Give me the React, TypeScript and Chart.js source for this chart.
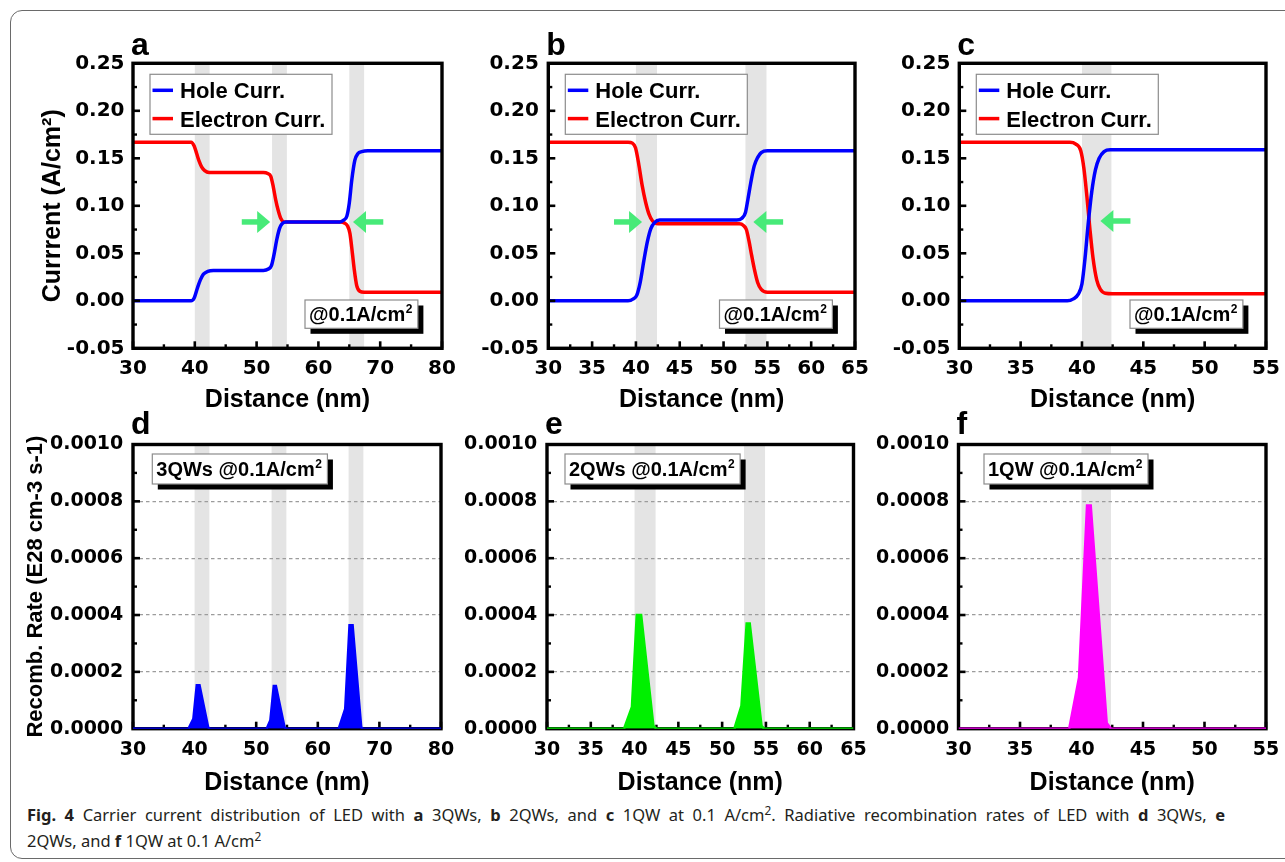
import React, { useEffect, useRef } from "react";
import { Chart, registerables } from "chart.js";

Chart.register(...registerables);

// ---------------- DATA ----------------
// (a) 3QWs carrier currents (A/cm2) vs distance (nm)
const holeA_x = [30, 39.4, 39.9, 40.4, 40.9, 41.4, 42.1, 43, 51.1, 51.9, 52.4, 52.8, 53.25, 53.7, 54.1, 54.7, 63.5, 64.1, 64.6, 65.0, 65.4, 65.9, 66.4, 67.0, 68, 80];
const holeA_y = [0, 0, 0.003, 0.013, 0.022, 0.028, 0.031, 0.032, 0.032, 0.0335, 0.037, 0.048, 0.064, 0.076, 0.081, 0.083, 0.083, 0.085, 0.089, 0.103, 0.127, 0.148, 0.155, 0.157, 0.158, 0.158];
const elecA_x = [30, 39.4, 39.9, 40.3, 40.7, 41.1, 41.6, 42.3, 51.1, 51.8, 52.3, 52.7, 53.1, 53.5, 53.9, 54.5, 63.6, 64.2, 64.7, 65.1, 65.5, 65.8, 66.2, 66.7, 67.4, 80];
const elecA_y = [0.167, 0.167, 0.163, 0.155, 0.147, 0.141, 0.137, 0.135, 0.135, 0.134, 0.131, 0.12, 0.106, 0.095, 0.087, 0.083, 0.083, 0.082, 0.079, 0.071, 0.05, 0.033, 0.016, 0.01, 0.009, 0.009];

// (b) 2QWs
const holeB_x = [30, 39.1, 39.7, 40.1, 40.5, 40.9, 41.3, 41.7, 42.1, 42.7, 51.5, 52.1, 52.5, 52.8, 53.1, 53.5, 53.9, 54.3, 55, 65];
const holeB_y = [0, 0, 0.002, 0.006, 0.02, 0.042, 0.062, 0.076, 0.082, 0.085, 0.085, 0.087, 0.093, 0.108, 0.124, 0.142, 0.151, 0.156, 0.158, 0.158];
const elecB_x = [30, 39.1, 39.6, 39.95, 40.3, 40.7, 41.1, 41.5, 41.9, 42.5, 51.8, 52.3, 52.6, 52.9, 53.2, 53.5, 53.9, 54.3, 55, 65];
const elecB_y = [0.167, 0.167, 0.166, 0.161, 0.145, 0.122, 0.104, 0.091, 0.084, 0.081, 0.081, 0.079, 0.075, 0.063, 0.048, 0.034, 0.019, 0.012, 0.009, 0.009];

// (c) 1QW
const holeC_x = [30, 38.8, 39.3, 39.7, 40.0, 40.25, 40.5, 40.8, 41.1, 41.4, 41.8, 42.3, 55];
const holeC_y = [0, 0, 0.002, 0.007, 0.018, 0.045, 0.08, 0.115, 0.138, 0.15, 0.157, 0.159, 0.159];
const elecC_x = [30, 39.0, 39.5, 39.9, 40.15, 40.4, 40.65, 40.9, 41.2, 41.5, 41.9, 42.5, 55];
const elecC_y = [0.167, 0.167, 0.165, 0.158, 0.14, 0.11, 0.075, 0.045, 0.022, 0.012, 0.008, 0.0075, 0.0075];

// (d)(e)(f) radiative recombination rate (E28 cm-3 s-1)
const recD_x = [30, 39.0, 39.8, 40.35, 40.8, 42.2, 42.5, 51.7, 52.3, 52.85, 53.2, 54.6, 54.9, 63.4, 64.45, 65.15, 65.65, 67.05, 67.4, 80];
const recD_y = [0, 0, 0.000035, 0.000153, 0.000153, 0.000005, 0, 0, 0.00003, 0.00015, 0.00015, 0.000005, 0, 0, 0.00007, 0.000364, 0.000364, 0.000005, 0, 0];
const recE_x = [30, 38.8, 39.7, 40.25, 40.75, 42.15, 42.5, 51.4, 52.2, 52.8, 53.15, 54.5, 54.8, 65];
const recE_y = [0, 0, 0.000077, 0.0004, 0.0004, 0.00001, 0, 0, 0.00008, 0.00037, 0.00037, 0.00001, 0, 0];
const recF_x = [30, 39.0, 39.8, 40.45, 40.75, 42.05, 42.4, 55];
const recF_y = [0, 0, 0.00018, 0.000785, 0.000785, 0.00002, 0, 0];

// quantum-well positions (nm)
const wells3: [number, number][] = [[40, 42.4], [52.5, 54.9], [65, 67.4]];
const wells2: [number, number][] = [[40, 42.4], [52.5, 54.9]];
const wells1: [number, number][] = [[40, 42.4]];

// green arrows (nm, A/cm2)
const arrowsA = [{ from: 47.6, to: 52.2, y: 0.083 }, { from: 70.5, to: 65.6, y: 0.083 }];
const arrowsB = [{ from: 37.5, to: 40.7, y: 0.083 }, { from: 56.8, to: 53.4, y: 0.083 }];
const arrowsC = [{ from: 43.95, to: 41.5, y: 0.084 }];

const labelsCurrent = ["Hole Curr.", "Electron Curr."];

// ---------------- STYLE ----------------
const FT = "'Liberation Sans', Arial, sans-serif";
const FD = "'DejaVu Sans', sans-serif";

const pts = (xs: number[], ys: number[]) => xs.map((x, i) => ({ x, y: ys[i] }));

type Rect = { l: number; t: number; r: number; b: number };

interface PanelCfg {
  id: string;
  letter: string;
  canvas: Rect;
  plot: Rect;
  xMin: number; xMax: number; xStep: number;
  yMin: number; yMax: number; yStep: number; yDec: number;
  tickSize: number;
  yTickPad: number;
  xTickCenter: number;
  xTitleCenter: number;
  yTitle?: string;
  yTitleSize?: number;
  yTitleCenter?: number;
  datasets: any[];
  wells: [number, number][];
  arrows?: { from: number; to: number; y: number }[];
  legend?: boolean;
  note: { text: string; dx: number; top: boolean };
  grid: boolean;
  frameUnder: boolean;
}

const curveDs = (label: string, color: string, xs: number[], ys: number[]) => ({
  label, data: pts(xs, ys), borderColor: color, backgroundColor: color,
  borderWidth: 3.5, pointRadius: 0, cubicInterpolationMode: "monotone", fill: false,
});
const rateDs = (label: string, color: string, xs: number[], ys: number[]) => ({
  label, data: pts(xs, ys), borderColor: color, backgroundColor: color,
  borderWidth: 2.5, pointRadius: 0, tension: 0, fill: "origin",
});

const TOP = { t: 15, b: 415, pt: 63.3, pb: 348.3 };
const BOT = { t: 405, b: 800, pt: 444.5, pb: 728.7 };

const PANELS: PanelCfg[] = [
  {
    id: "a", letter: "a",
    canvas: { l: 15, t: TOP.t, r: 472, b: TOP.b }, plot: { l: 133, r: 442, t: TOP.pt, b: TOP.pb },
    xMin: 30, xMax: 80, xStep: 10, yMin: -0.05, yMax: 0.25, yStep: 0.05, yDec: 2,
    tickSize: 20, yTickPad: 8.5, xTickCenter: 369, xTitleCenter: 400,
    yTitle: "Currrent (A/cm²)", yTitleSize: 25, yTitleCenter: 53,
    datasets: [curveDs(labelsCurrent[0], "#0000ff", holeA_x, holeA_y), curveDs(labelsCurrent[1], "#ff0000", elecA_x, elecA_y)],
    wells: wells3, arrows: arrowsA, legend: true,
    note: { text: "@0.1A/cm", dx: -137, top: false }, grid: false, frameUnder: false,
  },
  {
    id: "b", letter: "b",
    canvas: { l: 440, t: TOP.t, r: 885, b: TOP.b }, plot: { l: 548.3, r: 855, t: TOP.pt, b: TOP.pb },
    xMin: 30, xMax: 65, xStep: 5, yMin: -0.05, yMax: 0.25, yStep: 0.05, yDec: 2,
    tickSize: 20, yTickPad: 9.5, xTickCenter: 369, xTitleCenter: 400,
    datasets: [curveDs(labelsCurrent[0], "#0000ff", holeB_x, holeB_y), curveDs(labelsCurrent[1], "#ff0000", elecB_x, elecB_y)],
    wells: wells2, arrows: arrowsB, legend: true,
    note: { text: "@0.1A/cm", dx: -135.5, top: false }, grid: false, frameUnder: false,
  },
  {
    id: "c", letter: "c",
    canvas: { l: 850, t: TOP.t, r: 1296, b: TOP.b }, plot: { l: 959.3, r: 1266, t: TOP.pt, b: TOP.pb },
    xMin: 30, xMax: 55, xStep: 5, yMin: -0.05, yMax: 0.25, yStep: 0.05, yDec: 2,
    tickSize: 20, yTickPad: 9, xTickCenter: 369, xTitleCenter: 400,
    datasets: [curveDs(labelsCurrent[0], "#0000ff", holeC_x, holeC_y), curveDs(labelsCurrent[1], "#ff0000", elecC_x, elecC_y)],
    wells: wells1, arrows: arrowsC, legend: true,
    note: { text: "@0.1A/cm", dx: -136, top: false }, grid: false, frameUnder: false,
  },
  {
    id: "d", letter: "d",
    canvas: { l: 15, t: BOT.t, r: 472, b: BOT.b }, plot: { l: 133, r: 441, t: BOT.pt, b: BOT.pb },
    xMin: 30, xMax: 80, xStep: 10, yMin: 0, yMax: 0.001, yStep: 0.0002, yDec: 4,
    tickSize: 19, yTickPad: 9.7, xTickCenter: 750, xTitleCenter: 783,
    yTitle: "Recomb. Rate (E28 cm-3 s-1)", yTitleSize: 22, yTitleCenter: 36,
    datasets: [rateDs("3QWs", "#0000ff", recD_x, recD_y)],
    wells: wells3, note: { text: "3QWs @0.1A/cm", dx: 19.3, top: true }, grid: true, frameUnder: true,
  },
  {
    id: "e", letter: "e",
    canvas: { l: 440, t: BOT.t, r: 885, b: BOT.b }, plot: { l: 547, r: 853.5, t: BOT.pt, b: BOT.pb },
    xMin: 30, xMax: 65, xStep: 5, yMin: 0, yMax: 0.001, yStep: 0.0002, yDec: 4,
    tickSize: 19, yTickPad: 9.7, xTickCenter: 750, xTitleCenter: 783,
    datasets: [rateDs("2QWs", "#00f000", recE_x, recE_y)],
    wells: wells2, note: { text: "2QWs @0.1A/cm", dx: 18, top: true }, grid: true, frameUnder: true,
  },
  {
    id: "f", letter: "f",
    canvas: { l: 850, t: BOT.t, r: 1296, b: BOT.b }, plot: { l: 958.5, r: 1266, t: BOT.pt, b: BOT.pb },
    xMin: 30, xMax: 55, xStep: 5, yMin: 0, yMax: 0.001, yStep: 0.0002, yDec: 4,
    tickSize: 19, yTickPad: 9.2, xTickCenter: 750, xTitleCenter: 783,
    datasets: [rateDs("1QW", "#ff00ff", recF_x, recF_y)],
    wells: wells1, note: { text: "1QW @0.1A/cm", dx: 25.5, top: true }, grid: true, frameUnder: true,
  },
];

function drawFrameAndTicks(chart: any) {
  const { ctx, chartArea: ca, scales } = chart;
  const x = scales.x, y = scales.y;
  ctx.save();
  ctx.strokeStyle = "#000";
  ctx.lineCap = "butt";
  const drawT = (sc: any, horiz: boolean) => {
    const vals = sc.ticks.map((t: any) => t.value);
    const mids: number[] = [];
    for (let i = 0; i < vals.length - 1; i++) mids.push((vals[i] + vals[i + 1]) / 2);
    ctx.lineWidth = 2.6;
    vals.forEach((v: number) => {
      const p = sc.getPixelForValue(v);
      ctx.beginPath();
      if (horiz) { ctx.moveTo(p, ca.bottom); ctx.lineTo(p, ca.bottom - 7); }
      else { ctx.moveTo(ca.left, p); ctx.lineTo(ca.left + 7, p); }
      ctx.stroke();
    });
    ctx.lineWidth = 2.4;
    mids.forEach((v: number) => {
      const p = sc.getPixelForValue(v);
      ctx.beginPath();
      if (horiz) { ctx.moveTo(p, ca.bottom); ctx.lineTo(p, ca.bottom - 4); }
      else { ctx.moveTo(ca.left, p); ctx.lineTo(ca.left + 4, p); }
      ctx.stroke();
    });
  };
  drawT(x, true);
  drawT(y, false);
  ctx.lineWidth = 3.4;
  ctx.strokeRect(ca.left, ca.top, ca.right - ca.left, ca.bottom - ca.top);
  ctx.restore();
}

function drawNote(ctx: any, x: number, y: number, h: number, text: string) {
  const font = `bold 20px ${FT}`;
  const sfont = `bold 12px ${FT}`;
  ctx.font = font;
  const w1 = ctx.measureText(text).width;
  ctx.font = sfont;
  const w2 = ctx.measureText("2").width;
  const w = w1 + w2 + 10;
  ctx.fillStyle = "#000";
  ctx.fillRect(x + 5.5, y + 5.5, w, h);
  ctx.fillStyle = "#fff";
  ctx.fillRect(x, y, w, h);
  ctx.strokeStyle = "#8c8c8c";
  ctx.lineWidth = 1.2;
  ctx.strokeRect(x, y, w, h);
  ctx.fillStyle = "#000";
  ctx.textAlign = "left";
  ctx.textBaseline = "alphabetic";
  const base = y + h / 2 + 7.3;
  ctx.font = font;
  ctx.fillText(text, x + 4, base);
  ctx.font = sfont;
  ctx.fillText("2", x + 4.5 + w1, base - 8);
}

function makePlugin(cfg: PanelCfg) {
  return {
    id: "decor" + cfg.id,
    beforeDraw(chart: any) {
      const { ctx, chartArea: ca, scales } = chart;
      ctx.save();
      ctx.fillStyle = "#e4e4e4";
      cfg.wells.forEach(([a, b]) => {
        const x0 = scales.x.getPixelForValue(a);
        const x1 = scales.x.getPixelForValue(b);
        ctx.fillRect(x0, ca.top, x1 - x0, ca.bottom - ca.top);
      });
      ctx.restore();
    },
    beforeDatasetsDraw(chart: any) {
      if (cfg.frameUnder) drawFrameAndTicks(chart);
    },
    afterDatasetsDraw(chart: any) {
      const { ctx, chartArea: ca, scales } = chart;
      if (!cfg.frameUnder) drawFrameAndTicks(chart);
      ctx.save();
      (cfg.arrows || []).forEach((a) => {
        const x0 = scales.x.getPixelForValue(a.from);
        const x1 = scales.x.getPixelForValue(a.to);
        const yy = scales.y.getPixelForValue(a.y);
        const dir = Math.sign(x1 - x0);
        const head = 13;
        ctx.strokeStyle = "#47ea78";
        ctx.fillStyle = "#47ea78";
        ctx.lineWidth = 5.5;
        ctx.beginPath();
        ctx.moveTo(x0, yy);
        ctx.lineTo(x1 - dir * (head - 1), yy);
        ctx.stroke();
        ctx.beginPath();
        ctx.moveTo(x1, yy);
        ctx.lineTo(x1 - dir * head, yy - 11);
        ctx.lineTo(x1 - dir * head, yy + 11);
        ctx.closePath();
        ctx.fill();
      });
      if (cfg.legend) {
        const bx = ca.left + 17, by = ca.top + 11;
        ctx.fillStyle = "#fff";
        ctx.fillRect(bx, by, 182, 60);
        ctx.strokeStyle = "#8c8c8c";
        ctx.lineWidth = 1.2;
        ctx.strokeRect(bx, by, 182, 60);
        chart.data.datasets.forEach((ds: any, i: number) => {
          const cy = by + 16 + i * 28.3;
          ctx.strokeStyle = ds.borderColor;
          ctx.lineWidth = 3.5;
          ctx.beginPath();
          ctx.moveTo(bx + 2.5, cy);
          ctx.lineTo(bx + 23, cy);
          ctx.stroke();
          ctx.fillStyle = "#000";
          ctx.font = `bold 22px ${FT}`;
          ctx.textAlign = "left";
          ctx.textBaseline = "alphabetic";
          ctx.fillText(ds.label, bx + 30, cy + 8);
        });
      }
      if (cfg.note.top) drawNote(ctx, ca.left + cfg.note.dx, ca.top + 9.5, 30, cfg.note.text);
      else drawNote(ctx, ca.right + cfg.note.dx, ca.bottom - 48.3, 28.3, cfg.note.text);
      ctx.fillStyle = "#000";
      ctx.font = `bold 32px ${FT}`;
      ctx.textAlign = "left";
      ctx.textBaseline = "alphabetic";
      ctx.fillText(cfg.letter, ca.left - 2, ca.top - (cfg.note.top ? 11 : 8.5));
      ctx.restore();
    },
  };
}

function buildConfig(cfg: PanelCfg): any {
  const { canvas: c, plot: p } = cfg;
  const tickLH = cfg.tickSize * 1.2;
  const xTitleSize = 25;
  const yTitleSize = cfg.yTitleSize || 25;
  const fmt = (v: any) => {
    const n = Number(v);
    return (Math.abs(n) < 1e-12 ? 0 : n).toFixed(cfg.yDec);
  };
  return {
    type: "line",
    data: { datasets: cfg.datasets },
    plugins: [makePlugin(cfg)],
    options: {
      animation: false,
      responsive: false,
      events: [],
      layout: { padding: { left: 0, top: p.t - c.t, right: c.r - p.r, bottom: 0 } },
      plugins: { legend: { display: false }, tooltip: { enabled: false } },
      scales: {
        x: {
          type: "linear",
          min: cfg.xMin, max: cfg.xMax,
          afterFit: (s: any) => { s.height = c.b - p.b; },
          grid: { display: false, drawTicks: false },
          border: { display: false },
          ticks: {
            stepSize: cfg.xStep, autoSkip: false, maxRotation: 0,
            padding: cfg.xTickCenter - p.b - tickLH / 2,
            color: "#000", font: { family: FD, weight: "bold", size: cfg.tickSize },
            callback: (v: any) => String(v),
          },
          title: {
            display: true, text: "Distance (nm)", color: "#000",
            font: { family: FT, weight: "bold", size: xTitleSize },
            padding: { top: 0, bottom: c.b - cfg.xTitleCenter - (xTitleSize * 1.2) / 2 },
          },
        },
        y: {
          type: "linear",
          min: cfg.yMin, max: cfg.yMax,
          afterFit: (s: any) => { s.width = p.l - c.l; },
          grid: {
            display: cfg.grid, drawTicks: false, lineWidth: 1.3,
            color: (ctx: any) => {
              const v = ctx.tick ? ctx.tick.value : 0;
              return v <= cfg.yMin + 1e-12 || v >= cfg.yMax - 1e-12 ? "rgba(0,0,0,0)" : "#9c9c9c";
            },
          },
          border: { display: false, dash: [3.5, 3] },
          ticks: {
            stepSize: cfg.yStep, autoSkip: false,
            padding: cfg.yTickPad,
            color: "#000", font: { family: FD, weight: "bold", size: cfg.tickSize },
            callback: fmt,
          },
          title: {
            display: !!cfg.yTitle, text: cfg.yTitle || "", color: "#000",
            font: { family: FT, weight: "bold", size: yTitleSize },
            padding: { top: (cfg.yTitleCenter || 0) - c.l - (yTitleSize * 1.2) / 2, bottom: 0 },
          },
        },
      },
    },
  };
}

function Panel({ cfg }: { cfg: PanelCfg }) {
  const ref = useRef<HTMLCanvasElement>(null);
  useEffect(() => {
    const chart = new Chart(ref.current as HTMLCanvasElement, buildConfig(cfg));
    return () => chart.destroy();
  }, []);
  const w = cfg.canvas.r - cfg.canvas.l;
  const h = cfg.canvas.b - cfg.canvas.t;
  return (
    <canvas
      ref={ref}
      width={w}
      height={h}
      style={{ position: "absolute", left: cfg.canvas.l, top: cfg.canvas.t, width: w, height: h }}
    />
  );
}

const supStyle: React.CSSProperties = { fontSize: "0.72em", verticalAlign: "super", lineHeight: 0 };
const capStyle: React.CSSProperties = {
  position: "absolute", left: 27, fontFamily: "'Noto Sans', 'Open Sans', sans-serif",
  fontSize: 16.5, lineHeight: "25px", color: "#231f20", whiteSpace: "nowrap",
};

export default function App() {
  return (
    <div style={{ position: "absolute", left: 0, top: 0, width: 1285, height: 862, overflow: "hidden", background: "#fff" }}>
      <div
        style={{
          position: "absolute", left: 10, top: 10, width: 1300, height: 849,
          border: "1.4px solid #6a6a6a", borderRadius: 12, boxSizing: "border-box",
        }}
      />
      {PANELS.map((p) => (
        <Panel key={p.id} cfg={p} />
      ))}
      <div style={{ ...capStyle, top: 802, width: 1198, textAlign: "justify", textAlignLast: "justify" as any, whiteSpace: "normal" }}>
        <b>Fig. 4</b> Carrier current distribution of LED with <b>a</b> 3QWs, <b>b</b> 2QWs, and <b>c</b> 1QW at 0.1 A/cm
        <span style={supStyle}>2</span>. Radiative recombination rates of LED with <b>d</b> 3QWs, <b>e</b>
      </div>
      <div style={{ ...capStyle, top: 828 }}>
        2QWs, and <b>f</b> 1QW at 0.1 A/cm<span style={supStyle}>2</span>
      </div>
    </div>
  );
}
